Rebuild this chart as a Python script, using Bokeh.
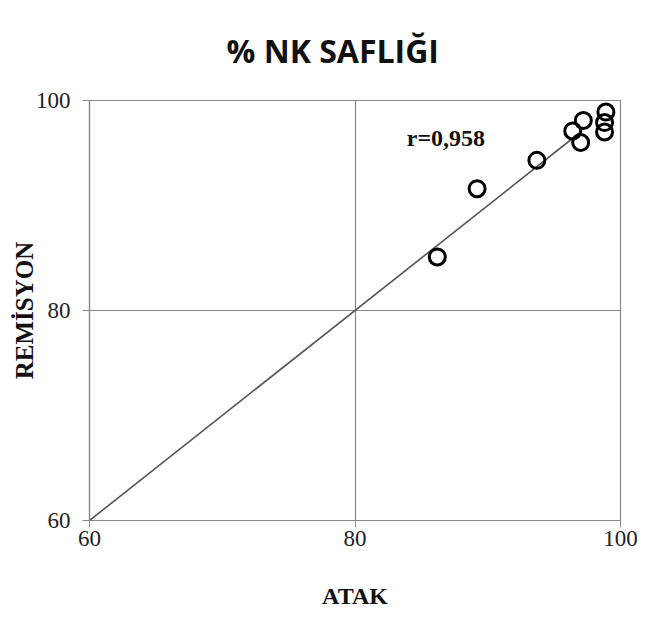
from bokeh.plotting import figure
from bokeh.models import Range1d, FixedTicker, Label, Title
from bokeh.embed import file_html
from bokeh.resources import INLINE

# data
atak = [86.2, 89.2, 93.7, 96.4, 97.2, 97.0, 98.9, 98.8, 98.8]
remisyon = [85.1, 91.6, 94.3, 97.1, 98.1, 96.0, 98.9, 97.9, 97.0]
line_x = [60, 97]
line_y = [60, 97]
ticks = [60, 80, 100]
title_text = "% NK SAFLIĞI"
r_text = "r=0,958"
x_title = "ATAK"
y_title = "REMİSYON"

p = figure(width=639, height=611, output_backend="svg", toolbar_location=None,
           x_range=Range1d(60, 100), y_range=Range1d(60, 100),
           min_border_left=89, min_border_right=19, min_border_top=100, min_border_bottom=91)
p.title = Title(text=title_text, align="left", offset=137, standoff=54, vertical_align="top",
                text_font="Open Sans", text_font_size="32px", text_font_style="bold",
                text_color="#111111")
p.background_fill_color = "white"
p.border_fill_color = "white"
p.outline_line_color = "#888888"
p.outline_line_width = 1.2

for ax in (p.xaxis[0], p.yaxis[0]):
    ax.ticker = FixedTicker(ticks=ticks)
    ax.axis_line_color = "#888888"
    ax.axis_line_width = 1.2
    ax.major_tick_line_color = "#888888"
    ax.major_tick_out = 7
    ax.major_tick_in = 0
    ax.minor_tick_line_color = None
    ax.major_label_text_font = "Liberation Serif"
    ax.major_label_text_font_size = "23px"
    ax.major_label_text_color = "#222222"
    ax.axis_label_text_font = "Liberation Serif"
    ax.axis_label_text_font_size = "24px"
    ax.axis_label_text_font_style = "bold"
    ax.axis_label_text_color = "#111111"

p.xaxis.axis_label = x_title
p.yaxis.axis_label = y_title
p.yaxis.axis_label_text_font_size = "25px"
p.xaxis.major_label_standoff = 3
p.yaxis.major_label_standoff = 12
p.xaxis.axis_label_standoff = 34
p.yaxis.axis_label_standoff = -5

p.xgrid.ticker = FixedTicker(ticks=ticks)
p.ygrid.ticker = FixedTicker(ticks=ticks)
p.grid.grid_line_color = "#888888"
p.grid.grid_line_width = 1.2

p.line(line_x, line_y, line_color="#555555", line_width=1.6)
p.scatter(atak, remisyon, marker="circle", size=16, fill_color=None,
          line_color="black", line_width=3)

p.add_layout(Label(x=83.9, y=96.4, text=r_text, text_font="Liberation Serif",
                   text_font_size="24px", text_font_style="bold", text_color="#111111",
                   text_baseline="alphabetic"))

open("out.html", "w").write(file_html(p, INLINE))
